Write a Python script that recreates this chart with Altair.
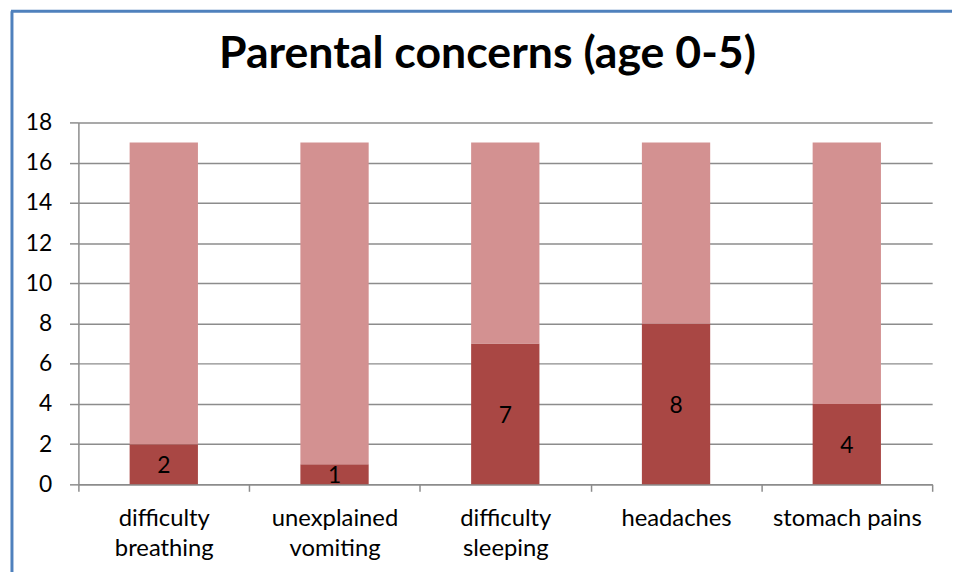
import altair as alt
import pandas as pd

categories = ["difficulty breathing", "unexplained vomiting", "difficulty sleeping", "headaches", "stomach pains"]
concerned = [2, 1, 7, 8, 4]
not_concerned = [15, 16, 10, 9, 13]
series_names = ["concerned", "not concerned"]
colors = ["#A94744", "#D39191"]

rows = []
for c, a, b in zip(categories, concerned, not_concerned):
    rows.append({"category": c, "series": series_names[0], "value": a, "order": 0})
    rows.append({"category": c, "series": series_names[1], "value": b, "order": 1})
df = pd.DataFrame(rows)
lab = pd.DataFrame({"category": categories, "value": concerned, "mid": [v / 2 for v in concerned]})

FONT = "Lato"

x_enc = alt.X(
    "category:N",
    sort=categories,
    title=None,
    scale=alt.Scale(paddingInner=0, paddingOuter=0),
    axis=alt.Axis(
        labelAngle=0,
        labelFont=FONT,
        labelFontSize=24,
        labelColor="#000000",
        labelLineHeight=31,
        labelPadding=15,
        labelBaseline="top",
        tickBand="extent",
        tickSize=7,
        tickColor="#8c8c8c",
        tickWidth=1.5,
        domainColor="#8c8c8c",
        domainWidth=1.5,
        grid=False,
        labelExpr="(datum.label == 'headaches' || datum.label == 'stomach pains') ? datum.label : split(datum.label, ' ')",
    ),
)

bars = alt.Chart(df).mark_bar(opacity=1, width=alt.RelativeBandSize(0.4)).encode(
    x=x_enc,
    y=alt.Y(
        "value:Q",
        stack="zero",
        title=None,
        scale=alt.Scale(domain=[0, 18]),
        axis=alt.Axis(
            values=list(range(0, 19, 2)),
            labelFont=FONT,
            labelFontSize=23,
            labelColor="#000000",
            labelPadding=18,
            tickSize=9,
            tickColor="#8c8c8c",
            tickWidth=1.5,
            domainColor="#8c8c8c",
            domainWidth=1.5,
            gridColor="#8c8c8c",
            gridWidth=1.5,
        ),
    ),
    color=alt.Color("series:N", scale=alt.Scale(domain=series_names, range=colors), legend=None),
    order=alt.Order("order:Q"),
)

texts = alt.Chart(lab).mark_text(font=FONT, fontSize=23, color="#000000", baseline="middle", dy=2).encode(
    x=alt.X("category:N", sort=categories),
    y=alt.Y("mid:Q"),
    text=alt.Text("value:Q"),
)

border_v = alt.Chart(lab.head(1)).mark_rule(color="#4F81BD", strokeWidth=3).encode(
    x=alt.value(-67), y=alt.value(-112), y2=alt.value(600)
)
border_h = alt.Chart(lab.head(1)).mark_rule(color="#4F81BD", strokeWidth=3).encode(
    x=alt.value(-68), x2=alt.value(1000), y=alt.value(-112)
)

chart = alt.layer(bars, texts, border_v, border_h).properties(
    width=861,
    height=365,
    autosize=alt.AutoSizeParams(type="none"),
    padding={"left": 71, "top": 113, "right": 20, "bottom": 86},
    title=alt.TitleParams(
        "Parental concerns (age 0-5)",
        font=FONT,
        fontSize=45,
        fontWeight="bold",
        color="#000000",
        anchor="middle",
        frame="group",
        dx=-18,
        dy=104,
        baseline="alphabetic",
        offset=0,
    ),
).configure_view(stroke=None)

chart.save("out.html", embed_options={"renderer": "svg", "actions": False})
